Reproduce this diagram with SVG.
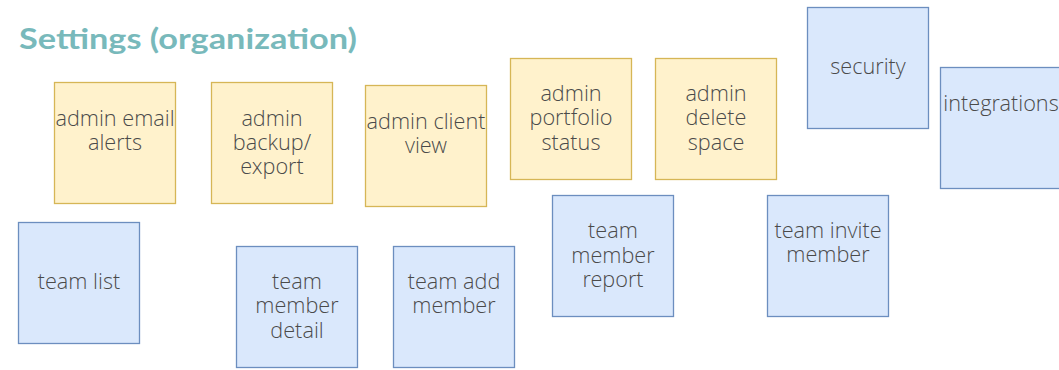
<svg xmlns="http://www.w3.org/2000/svg" width="1059" height="370" viewBox="0 0 1059 370">
<style>
.y{fill:#fff2cc;stroke:#d6b656;stroke-width:1.3}
.b{fill:#dae8fc;stroke:#6c8ebf;stroke-width:1.3}
.t{font-family:"Open Sans Light","Open Sans","Liberation Sans",sans-serif;font-weight:300;font-size:21.7px;fill:#4a4a4a;text-anchor:middle}
.title{font-family:Lato,"Liberation Sans",sans-serif;font-weight:700;font-size:29px;fill:#78b9bb}
</style>
<rect width="1059" height="370" fill="#ffffff"/>
<text class="title" x="19" y="48.5" textLength="338" lengthAdjust="spacingAndGlyphs">Settings (organization)</text>
<g id="connectors"></g>
<g id="admin-email-alerts"><rect class="y" x="54.5" y="82.5" width="121" height="121"/><text class="t"><tspan x="115" y="126">admin email</tspan><tspan x="115" y="150">alerts</tspan></text></g>
<g id="admin-backup-export"><rect class="y" x="211.5" y="82.5" width="121" height="121"/><text class="t"><tspan x="272" y="126">admin</tspan><tspan x="272" y="150">backup/</tspan><tspan x="272" y="174">export</tspan></text></g>
<g id="admin-client-view"><rect class="y" x="365.5" y="85.5" width="121" height="121"/><text class="t"><tspan x="426" y="129">admin client</tspan><tspan x="426" y="153">view</tspan></text></g>
<g id="admin-portfolio-status"><rect class="y" x="510.5" y="58.5" width="121" height="121"/><text class="t"><tspan x="571" y="101">admin</tspan><tspan x="571" y="125">portfolio</tspan><tspan x="571" y="150">status</tspan></text></g>
<g id="admin-delete-space"><rect class="y" x="655.5" y="58.5" width="121" height="121"/><text class="t"><tspan x="716" y="101">admin</tspan><tspan x="716" y="125">delete</tspan><tspan x="716" y="150">space</tspan></text></g>
<g id="security"><rect class="b" x="807.5" y="7.5" width="121" height="121"/><text class="t" x="868" y="74">security</text></g>
<g id="integrations"><rect class="b" x="940.5" y="67.5" width="121" height="121"/><text class="t" x="1001" y="111">integrations</text></g>
<g id="team-list"><rect class="b" x="18.5" y="222.5" width="121" height="121"/><text class="t" x="79" y="289">team list</text></g>
<g id="team-member-detail"><rect class="b" x="236.5" y="246.5" width="121" height="121"/><text class="t"><tspan x="297" y="289">team</tspan><tspan x="297" y="313">member</tspan><tspan x="297" y="337.5">detail</tspan></text></g>
<g id="team-add-member"><rect class="b" x="393.5" y="246.5" width="121" height="121"/><text class="t"><tspan x="454" y="289">team add</tspan><tspan x="454" y="313">member</tspan></text></g>
<g id="team-member-report"><rect class="b" x="552.5" y="195.5" width="121" height="121"/><text class="t"><tspan x="613" y="238">team</tspan><tspan x="613" y="262.5">member</tspan><tspan x="613" y="286.5">report</tspan></text></g>
<g id="team-invite-member"><rect class="b" x="767.5" y="195.5" width="121" height="121"/><text class="t"><tspan x="828" y="237.5">team invite</tspan><tspan x="828" y="262">member</tspan></text></g>
</svg>
